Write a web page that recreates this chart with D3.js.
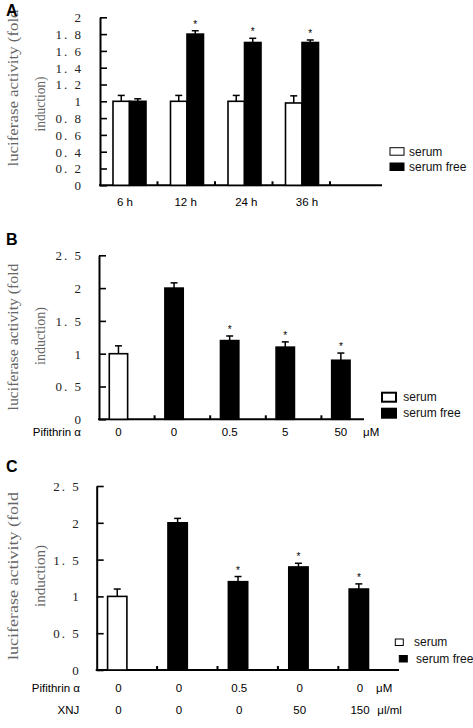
<!DOCTYPE html>
<html><head><meta charset="utf-8">
<script src="https://cdn.jsdelivr.net/npm/d3@7"></script>
<style>body{margin:0;background:#fff}svg{display:block}</style>
</head><body>
<script>
// ---------- DATA ----------
// Panel A
const catsA = ["6 h", "12 h", "24 h", "36 h"];
const serumA = [1.0, 1.0, 1.0, 0.98];
const serumErrA = [0.07, 0.07, 0.07, 0.085];
const freeA = [1.0, 1.8, 1.7, 1.7];
const freeErrA = [0.03, 0.04, 0.05, 0.03];
const sigA = [false, true, true, true];
const ticksA = [0, 0.2, 0.4, 0.6, 0.8, 1, 1.2, 1.4, 1.6, 1.8, 2];

// Panel B
const pifB = ["0", "0", "0.5", "5", "50"];
const groupB = ["serum", "serum free", "serum free", "serum free", "serum free"];
const valuesB = [1.0, 2.0, 1.2, 1.1, 0.9];
const errB = [0.12, 0.08, 0.07, 0.08, 0.11];
const sigB = [false, false, true, true, true];
const ticksB = [0, 0.5, 1, 1.5, 2, 2.5];

// Panel C
const pifC = ["0", "0", "0.5", "0", "0"];
const xnjC = ["0", "0", "0", "50", "150"];
const groupC = ["serum", "serum free", "serum free", "serum free", "serum free"];
const valuesC = [1.0, 2.0, 1.2, 1.4, 1.1];
const errC = [0.10, 0.06, 0.07, 0.05, 0.07];
const sigC = [false, false, true, true, true];
const ticksC = [0, 0.5, 1, 1.5, 2, 2.5];

const legendLabels = ["serum", "serum free"];
const yTitle1 = "luciferase activity (fold";
const yTitle2 = "induction)";

// ---------- DRAW ----------
const W = 473, H = 728;
const svg = d3.select("body").append("svg").attr("width", W).attr("height", H);
svg.append("rect").attr("width", W).attr("height", H).attr("fill", "#fff");

const fillOf = g => g === "serum" ? "#fff" : "#000";
const tickFmt = v => String(+v.toFixed(1)).replace(".", ". ");
const SANS = "Liberation Sans, Arial, sans-serif";
const SERIF = "Liberation Serif, Times New Roman, serif";

function frame(cfg) {
  const y = d3.scaleLinear().domain([0, cfg.ymax]).range([cfg.yBase, cfg.yTop]);
  const x = d3.scaleBand().domain(d3.range(5)).range([cfg.x0, cfg.x1]);
  const ax = svg.append("g").attr("transform", `translate(${cfg.x0},0)`)
    .call(d3.axisLeft(y).tickValues(cfg.ticks).tickSize(-7).tickSizeOuter(0)
      .tickPadding(cfg.pad).tickFormat(tickFmt));
  ax.select(".domain").attr("stroke", "#000").attr("stroke-width", 2);
  ax.selectAll(".tick line").attr("stroke", "#000").attr("stroke-width", 1.6);
  ax.selectAll(".tick text").attr("font-family", SERIF).attr("font-size", 13)
    .attr("fill", "#222").attr("letter-spacing", "2px").attr("dy", "0.34em");
  svg.append("line").attr("x1", cfg.x0 - 1).attr("x2", cfg.axisEnd)
    .attr("y1", cfg.yBase).attr("y2", cfg.yBase).attr("stroke", "#000").attr("stroke-width", 2);
  svg.selectAll(null).data(d3.range(1, 5)).join("line")
    .attr("x1", i => x(i)).attr("x2", i => x(i))
    .attr("y1", cfg.yBase).attr("y2", cfg.yBase - 4)
    .attr("stroke", "#000").attr("stroke-width", 2);
  svg.append("text").attr("transform", `translate(${cfg.t1x},${cfg.t1y}) rotate(-90)`)
    .attr("text-anchor", "middle").attr("font-family", SERIF).attr("font-size", 14.5)
    .attr("fill", "#666").attr("textLength", cfg.t1len).attr("lengthAdjust", "spacingAndGlyphs")
    .text(yTitle1);
  svg.append("text").attr("transform", `translate(${cfg.t2x},${cfg.t2y}) rotate(-90)`)
    .attr("text-anchor", "middle").attr("font-family", SERIF).attr("font-size", 14.5)
    .attr("fill", "#666").attr("textLength", cfg.t2len).attr("lengthAdjust", "spacingAndGlyphs")
    .text(yTitle2);
  svg.append("text").attr("x", 6).attr("y", cfg.letterY).attr("font-family", SANS)
    .attr("font-weight", "bold").attr("font-size", 16).text(cfg.letter);
  return {x, y};
}

function bar(x0, w, v, e, fill, sig, y) {
  svg.append("rect").attr("x", x0).attr("width", w)
    .attr("y", y(v)).attr("height", y(0) - y(v))
    .attr("fill", fill).attr("stroke", "#000").attr("stroke-width", 1.6);
  const cx = x0 + w / 2;
  svg.append("line").attr("x1", cx).attr("x2", cx).attr("y1", y(v)).attr("y2", y(v + e))
    .attr("stroke", "#000").attr("stroke-width", 1.5);
  svg.append("line").attr("x1", cx - 3.5).attr("x2", cx + 3.5).attr("y1", y(v + e)).attr("y2", y(v + e))
    .attr("stroke", "#000").attr("stroke-width", 1.5);
  if (sig) {
    svg.append("text").attr("x", cx).attr("y", y(v + e) - 3).attr("text-anchor", "middle")
      .attr("font-family", SANS).attr("font-size", 10).attr("fill", "#000").text("*");
  }
}

let legendBoxShift = 0, legendTextShift = 0;
function legend(bx, by, bw, bh, gap, tx, strokeW, fs) {
  legendLabels.forEach((lab, i) => {
    const yy = by + i * gap;
    svg.append("rect").attr("x", bx + (i ? legendBoxShift : 0)).attr("y", yy).attr("width", bw).attr("height", bh)
      .attr("fill", fillOf(lab)).attr("stroke", "#000").attr("stroke-width", strokeW);
    svg.append("text").attr("x", tx + (i ? legendTextShift : 0)).attr("y", yy + bh / 2).attr("dy", "0.35em")
      .attr("font-family", SANS).attr("font-size", fs).attr("fill", "#111").text(lab);
  });
}

// ---- Panel A ----
{
  const {x, y} = frame({ymax: 2, yBase: 185.3, yTop: 17.3, x0: 100, x1: 387.5, axisEnd: 382,
    ticks: ticksA, pad: 17, letter: "A", letterY: 16,
    t1x: 18, t1y: 88, t1len: 157, t2x: 45, t2y: 104, t2len: 55});
  const sub = d3.scaleBand().domain(legendLabels).range([0.226, 0.8]);
  catsA.forEach((c, i) => {
    const bw = x.bandwidth();
    bar(x(i) + bw * sub("serum"), bw * sub.bandwidth(), serumA[i], serumErrA[i], "#fff", false, y);
    bar(x(i) + bw * sub("serum free"), bw * sub.bandwidth(), freeA[i], freeErrA[i], "#000", sigA[i], y);
  });
  const lx = d3.scalePoint().domain(catsA).range([125, 307]);
  svg.selectAll(null).data(catsA).join("text")
    .attr("x", d => lx(d)).attr("y", 205.5).attr("text-anchor", "middle")
    .attr("font-family", SANS).attr("font-size", 11.5).text(d => d);
  legend(390, 147.7, 14, 7.5, 15.3, 409, 1, 12);
}

// ---- Panel B ----
{
  const {x, y} = frame({ymax: 2.5, yBase: 419.3, yTop: 255.3, x0: 99, x1: 377, axisEnd: 364,
    ticks: ticksB, pad: 16, letter: "B", letterY: 245,
    t1x: 18, t1y: 337, t1len: 147, t2x: 45, t2y: 336, t2len: 58});
  const bw = x.bandwidth();
  valuesB.forEach((v, i) => {
    bar(x(i) + bw * 0.185, bw * 0.33, v, errB[i], fillOf(groupB[i]), sigB[i], y);
  });
  svg.selectAll(null).data(pifB).join("text")
    .attr("x", (d, i) => x(i) + bw * 0.35).attr("y", 436).attr("text-anchor", "middle")
    .attr("font-family", SANS).attr("font-size", 11.5).text(d => d);
  svg.append("text").attr("x", 81).attr("y", 436).attr("text-anchor", "end")
    .attr("font-family", SANS).attr("font-size", 11.5).text("Pifithrin α");
  svg.append("text").attr("x", 363).attr("y", 436)
    .attr("font-family", SANS).attr("font-size", 11.5).text("μM");
  legend(382, 392.7, 14, 9, 16, 403.3, 2, 12);
}

// ---- Panel C ----
{
  const {x, y} = frame({ymax: 2.5, yBase: 670, yTop: 486, x0: 96.7, x1: 398.7, axisEnd: 399,
    ticks: ticksC, pad: 16, letter: "C", letterY: 472,
    t1x: 18, t1y: 576, t1len: 168, t2x: 45, t2y: 576, t2len: 62});
  const bw = x.bandwidth();
  valuesC.forEach((v, i) => {
    bar(x(i) + bw * 0.18, bw * 0.32, v, errC[i], fillOf(groupC[i]), sigC[i], y);
  });
  svg.selectAll(null).data(pifC).join("text")
    .attr("x", (d, i) => x(i) + bw * 0.36).attr("y", 692).attr("text-anchor", "middle")
    .attr("font-family", SANS).attr("font-size", 11.5).text(d => d);
  svg.selectAll(null).data(xnjC).join("text")
    .attr("x", (d, i) => x(i) + bw * 0.36).attr("y", 714).attr("text-anchor", "middle")
    .attr("font-family", SANS).attr("font-size", 11.5).text(d => d);
  svg.append("text").attr("x", 80).attr("y", 692).attr("text-anchor", "end")
    .attr("font-family", SANS).attr("font-size", 11.5).text("Pifithrin α");
  svg.append("text").attr("x", 79.3).attr("y", 714).attr("text-anchor", "end")
    .attr("font-family", SANS).attr("font-size", 11.5).text("XNJ");
  svg.append("text").attr("x", 376).attr("y", 692)
    .attr("font-family", SANS).attr("font-size", 11.5).text("μM");
  svg.append("text").attr("x", 377.3).attr("y", 714)
    .attr("font-family", SANS).attr("font-size", 11.5).text("μl/ml");
  legendBoxShift = 4; legendTextShift = 2;
  legend(395.3, 639, 8, 6.5, 16.5, 414, 1, 12);
}
</script>
</body></html>
